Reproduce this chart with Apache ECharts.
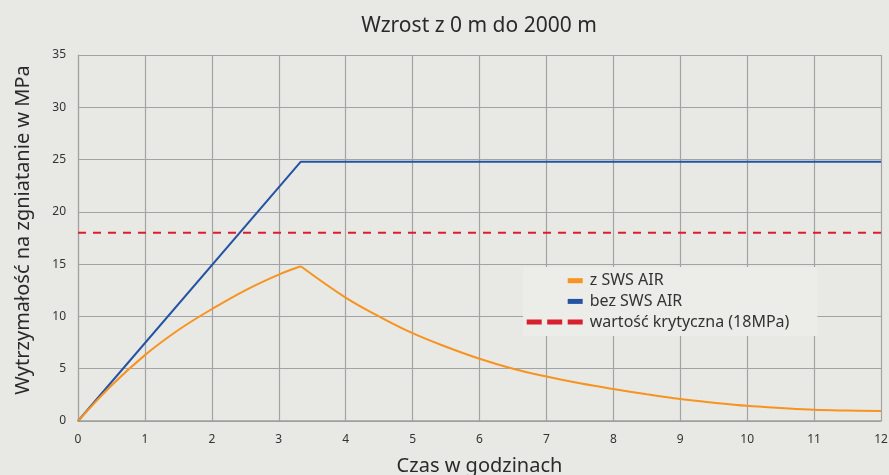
<!DOCTYPE html>
<html>
<head>
<meta charset="utf-8">
<script src="https://cdn.jsdelivr.net/npm/echarts@6/dist/echarts.min.js"></script>
<style>
  html, body { margin: 0; padding: 0; background: #e8e9e5; }
  #chart { width: 889px; height: 475px; }
</style>
</head>
<body>
<div id="chart"></div>
<script>
// dane (czas w godzinach, MPa)
var riseHours = [0, 0.5, 1, 1.5, 2, 2.5, 3, 3.33];
var riseWith = [0, 3.4, 6.3, 8.7, 10.7, 12.5, 14.0, 14.8];
var decayHours = [3.33, 4, 4.5, 5, 5.5, 6, 6.5, 7, 7.5, 8, 8.5, 9, 9.5, 10, 10.5, 11, 11.5, 12];
var decayWith = [14.8, 11.8, 10.0, 8.4, 7.1, 5.95, 5.0, 4.25, 3.6, 3.05, 2.55, 2.1, 1.75, 1.45, 1.25, 1.08, 1.0, 0.95];
var withoutHours = [0, 3.33, 12];
var withoutVals = [0, 24.8, 24.8];
var criticalHours = [0, 12];
var criticalVals = [18, 18];

var names = ['z SWS AIR', 'bez SWS AIR', 'wartość krytyczna (18MPa)'];
var colors = ['#f7931e', '#2553a3', '#d71f2d'];

function pairs(xs, ys) {
  var out = [];
  for (var i = 0; i < xs.length; i++) out.push([xs[i], ys[i]]);
  return out;
}

var chart = echarts.init(document.getElementById('chart'));
var font = 'Noto Sans';
var shortIcon = 'path://M0,0 M56,5 M41,0h15v5h-15z';

chart.setOption({
  backgroundColor: '#e8e9e5',
  animation: false,
  title: {
    text: 'Wzrost z 0 m do 2000 m',
    left: 474,
    textAlign: 'center',
    top: 11,
    textStyle: { fontFamily: font, fontSize: 21, fontWeight: 'normal', color: '#2a2a2a' }
  },
  grid: { left: 78, right: 8, top: 55, bottom: 54, outerBoundsMode: 'none' },
  legend: {
    orient: 'vertical',
    left: 523,
    top: 267,
    padding: [5.7, 28, 6, 3.7],
    backgroundColor: '#ecede9',
    itemWidth: 56,
    itemHeight: 5,
    itemGap: 4.7,
    symbolKeepAspect: false,
    itemStyle: { borderWidth: 0 },
    textStyle: { fontFamily: font, fontSize: 16, color: '#333', lineHeight: 16, padding: [0, 0, 0, 2] },
    data: [
      { name: names[0], icon: shortIcon },
      { name: names[1], icon: shortIcon },
      { name: names[2], icon: 'path://M0,0h15v5h-15z M20.5,0h15v5h-15z M41,0h15v5h-15z' }
    ]
  },
  xAxis: {
    type: 'value',
    min: 0,
    max: 12,
    interval: 1,
    name: 'Czas w godzinach',
    nameLocation: 'middle',
    nameGap: 35,
    nameTextStyle: { fontFamily: font, fontSize: 20, color: '#2a2a2a' },
    axisLine: { lineStyle: { color: '#9e9e9e', width: 1.5 } },
    axisTick: { show: false },
    axisLabel: { fontFamily: font, fontSize: 12, color: '#333', margin: 13 },
    splitLine: { lineStyle: { color: '#a3a3a3', width: 1.2 } }
  },
  yAxis: {
    type: 'value',
    min: 0,
    max: 35,
    interval: 5,
    name: 'Wytrzymałość na zgniatanie w MPa',
    nameLocation: 'middle',
    nameGap: 45,
    nameTextStyle: { fontFamily: font, fontSize: 20, color: '#2a2a2a', padding: [0, 0, 0, 16] },
    axisLine: { show: true, lineStyle: { color: '#a3a3a3', width: 1.2 } },
    axisTick: { show: false },
    axisLabel: { fontFamily: font, fontSize: 12, color: '#333', margin: 12 },
    splitLine: { lineStyle: { color: '#a3a3a3', width: 1.2 } }
  },
  series: [
    {
      name: names[0],
      type: 'line',
      data: pairs(riseHours, riseWith),
      smooth: 0.4,
      showSymbol: false,
      symbol: 'none',
      color: colors[0],
      lineStyle: { color: colors[0], width: 2 },
      z: 4
    },
    {
      name: names[0],
      type: 'line',
      data: pairs(decayHours, decayWith),
      smooth: 0.4,
      showSymbol: false,
      symbol: 'none',
      color: colors[0],
      lineStyle: { color: colors[0], width: 2 },
      z: 4
    },
    {
      name: names[1],
      type: 'line',
      data: pairs(withoutHours, withoutVals),
      showSymbol: false,
      symbol: 'none',
      color: colors[1],
      lineStyle: { color: colors[1], width: 2 },
      z: 3
    },
    {
      name: names[2],
      type: 'line',
      data: pairs(criticalHours, criticalVals),
      showSymbol: false,
      symbol: 'none',
      color: colors[2],
      lineStyle: { color: colors[2], width: 2, type: [8, 7] },
      z: 2
    }
  ]
});
</script>
</body>
</html>
